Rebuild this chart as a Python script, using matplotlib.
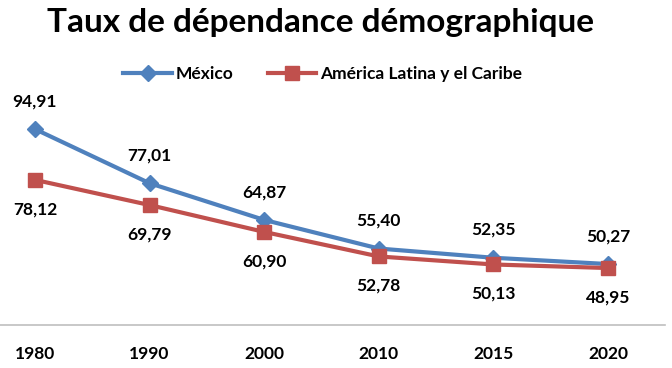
import matplotlib
matplotlib.use("Agg")
import matplotlib.pyplot as plt

years = ["1980", "1990", "2000", "2010", "2015", "2020"]
mexico = [94.91, 77.01, 64.87, 55.40, 52.35, 50.27]
america_latina = [78.12, 69.79, 60.90, 52.78, 50.13, 48.95]

plt.rcParams["font.family"] = ["Lato", "DejaVu Sans"]

fig = plt.figure(figsize=(6.72, 3.68), dpi=100)
ax = fig.add_axes([0, 0.1168, 665 / 672, 0.6522])

x = list(range(len(years)))
ax.plot(x, mexico, color="#4F81BD", lw=3, marker="D", markersize=8,
        label="México")
ax.plot(x, america_latina, color="#C0504D", lw=3, marker="s", markersize=10,
        label="América Latina y el Caribe")

# data labels, comma decimals
for xi, v in zip(x, mexico):
    ax.annotate(f"{v:.2f}".replace(".", ","), (xi, v), xytext=(0, 20),
                textcoords="offset points", ha="center", va="center",
                fontsize=12.5, fontweight="bold")
for xi, v in zip(x, america_latina):
    ax.annotate(f"{v:.2f}".replace(".", ","), (xi, v), xytext=(0, -21),
                textcoords="offset points", ha="center", va="center",
                fontsize=12.5, fontweight="bold")

ax.set_xlim(-0.305, 5.497)
ax.set_ylim(30.1, 109.5)
ax.set_xticks(x)
ax.set_xticklabels(years, fontsize=12.5, fontweight="bold")
ax.tick_params(axis="x", length=0, pad=15)
ax.set_yticks([])
for side in ["top", "left", "right"]:
    ax.spines[side].set_visible(False)
ax.spines["bottom"].set_color("#BFBFBF")
ax.spines["bottom"].set_linewidth(1.2)

fig.text(0.477, 0.94, "Taux de dépendance démographique", ha="center",
         va="center", fontsize=24, fontweight="bold")

fig.legend(loc="center", bbox_to_anchor=(0.48, 0.80), ncol=2, frameon=False,
           prop={"size": 12.5, "weight": "bold"}, handlelength=2.8,
           handletextpad=0.2, columnspacing=2.0)

fig.savefig("out.png", dpi=100)
